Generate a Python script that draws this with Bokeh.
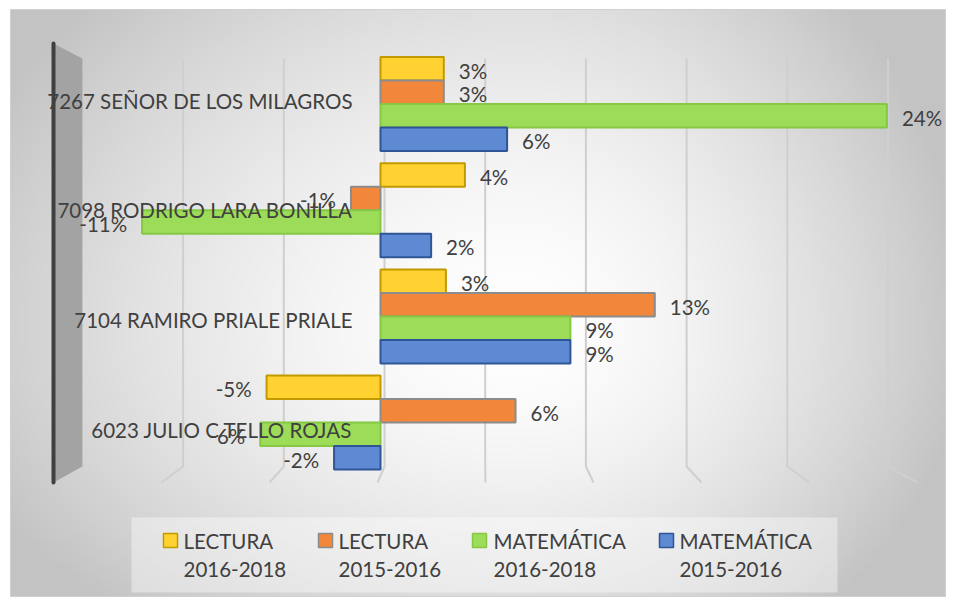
import numpy as np
from bokeh.plotting import figure
from bokeh.models import Range1d, ColumnDataSource
from bokeh.core.properties import value
from bokeh.embed import file_html
from bokeh.resources import INLINE

# ---------------- data ----------------
schools = [
    "7267 SEÑOR DE LOS MILAGROS",
    "7098 RODRIGO LARA BONILLA",
    "7104 RAMIRO PRIALE PRIALE",
    "6023 JULIO C TELLO ROJAS",
]
series_names = ["LECTURA 2016-2018", "LECTURA 2015-2016",
                "MATEMÁTICA 2016-2018", "MATEMÁTICA 2015-2016"]
lectura_2016_2018 = [3.0, 4.0, 3.1, -5.4]
lectura_2015_2016 = [3.0, -1.4, 13.0, 6.4]
matematica_2016_2018 = [24.0, -11.3, 9.0, -5.7]
matematica_2015_2016 = [6.0, 2.4, 9.0, -2.2]
grid_values = [-10, -5, 0, 5, 10, 15, 20, 25]
wall_value = -15

series_values = [lectura_2016_2018, lectura_2015_2016,
                 matematica_2016_2018, matematica_2015_2016]

# ---------------- style ----------------
fills = ["#FFD232", "#F2863A", "#9CDC58", "#5E8AD4"]
edges = ["#C29A00", "#8C8C8C", "#86C843", "#2F5597"]
TEXT = "#404040"
FONT = value("Lato")
FS = "20.5px"

W, H = 946, 597
K = 21.1        # px per percent (bar plane)
X0 = 380.0      # image px of zero
U = 106.2       # px per category
Y0 = 103.5      # image px of first category centre


def dx(px):
    return (px - X0) / K


def dy(py):
    return -(py - Y0) / U


def xb(v):  # back plane
    return 384 + 20.14 * v


def xf(v):  # front plane
    return 377 + 21.6 * v


x_range = Range1d(dx(0), dx(W))
y_range = Range1d(dy(H), dy(0))

p = figure(width=W, height=H, x_range=x_range, y_range=y_range,
           output_backend="svg", toolbar_location=None, min_border=0,
           x_axis_location=None, y_axis_location=None)
p.grid.visible = False
p.outline_line_color = None
p.background_fill_color = "white"
p.border_fill_color = "white"

# ---------------- background gradient (chart area 10..946 x 9..597) ----------------
AL, AR, AT, AB = 10, 946, 9, 597
cols, rows = 240, 150
jj = AL + (np.arange(cols) + 0.5) * (AR - AL) / cols
ii = AB - (np.arange(rows) + 0.5) * (AB - AT) / rows
IX, IY = np.meshgrid(jj, ii)
cx, cy = 520.0, 330.0
rx = np.where(IX < cx, 600.0, 450.0)
ry = np.where(IY < cy, 480.0, 380.0)
t = np.sqrt(((IX - cx) / rx) ** 2 + ((IY - cy) / ry) ** 2)
g = (255 - 60 * np.clip(t, 0, 1) ** 1.6).astype(np.uint32)
img = (np.uint32(255) << 24) | (g << 16) | (g << 8) | g
p.image_rgba(image=[img.astype(np.uint32)], x=dx(AL), y=dy(AB),
             dw=(AR - AL) / K, dh=(AB - AT) / U)
p.quad(left=dx(AL), right=dx(AR - 1), top=dy(AT), bottom=dy(AB - 1),
       fill_color=None, line_color="#d0d0d0", line_width=1)

# ---------------- wall & grid ----------------
p.patch([dx(xf(wall_value)), dx(xb(wall_value)), dx(xb(wall_value)), dx(xf(wall_value))],
        [dy(43), dy(58), dy(466), dy(482)], fill_color="#a3a3a3", line_color=None)
p.line([dx(xf(wall_value)), dx(xf(wall_value))], [dy(43), dy(482)],
       line_color="#404040", line_width=4, line_cap="round")

gx = [[dx(xb(v)), dx(xb(v)), dx(xf(v))] for v in grid_values]
gy = [[dy(58), dy(466), dy(482)] for v in grid_values]
p.multi_line(gx, gy, line_color="#cfcfcf", line_width=2)

# ---------------- bars ----------------
BH = 23.5 / U
for k, (vals, fc, ec) in enumerate(zip(series_values, fills, edges)):
    ys = [-i + (1.5 - k) * BH for i in range(len(schools))]
    src = ColumnDataSource(dict(
        y=ys, right=vals, left=[0] * len(vals),
        lx=[v + (0.71 if v >= 0 else -0.71) for v in vals],
        ly=[y - 2 / U for y in ys],
        lab=[f"{round(v)}%" for v in vals],
        al=["left" if v >= 0 else "right" for v in vals],
    ))
    p.hbar(y="y", left="left", right="right", height=BH, source=src,
           fill_color=fc, line_color=ec, line_width=2)
    p.text(x="lx", y="ly", text="lab", source=src, text_align="al",
           text_baseline="middle", text_font=FONT, text_font_size=FS,
           text_color=TEXT)

# ---------------- category labels ----------------
p.text(x=[dx(352)] * len(schools), y=[dy(100 + 109.7 * i) for i in range(len(schools))],
       text=schools, text_align="right", text_baseline="middle",
       text_font=FONT, text_font_size=FS, text_color=TEXT)

# ---------------- legend ----------------
p.quad(left=dx(131), right=dx(837), top=dy(517), bottom=dy(592),
       fill_color="white", fill_alpha=0.4, line_color=None)
marker_left = [163, 318, 472, 659]
text_left = [183, 338, 493, 679]
for name, fc, ec, ml, tl in zip(series_names, fills, edges, marker_left, text_left):
    first, second = name.split(" ", 1)
    p.quad(left=dx(ml), right=dx(ml + 14), top=dy(533), bottom=dy(547),
           fill_color=fc, line_color=ec, line_width=1.5)
    p.text(x=[dx(tl), dx(tl)], y=[dy(540), dy(569)], text=[first, second],
           text_align="left", text_baseline="middle", text_font=FONT,
           text_font_size=FS, text_color=TEXT)

open("out.html", "w").write(file_html(p, INLINE))
